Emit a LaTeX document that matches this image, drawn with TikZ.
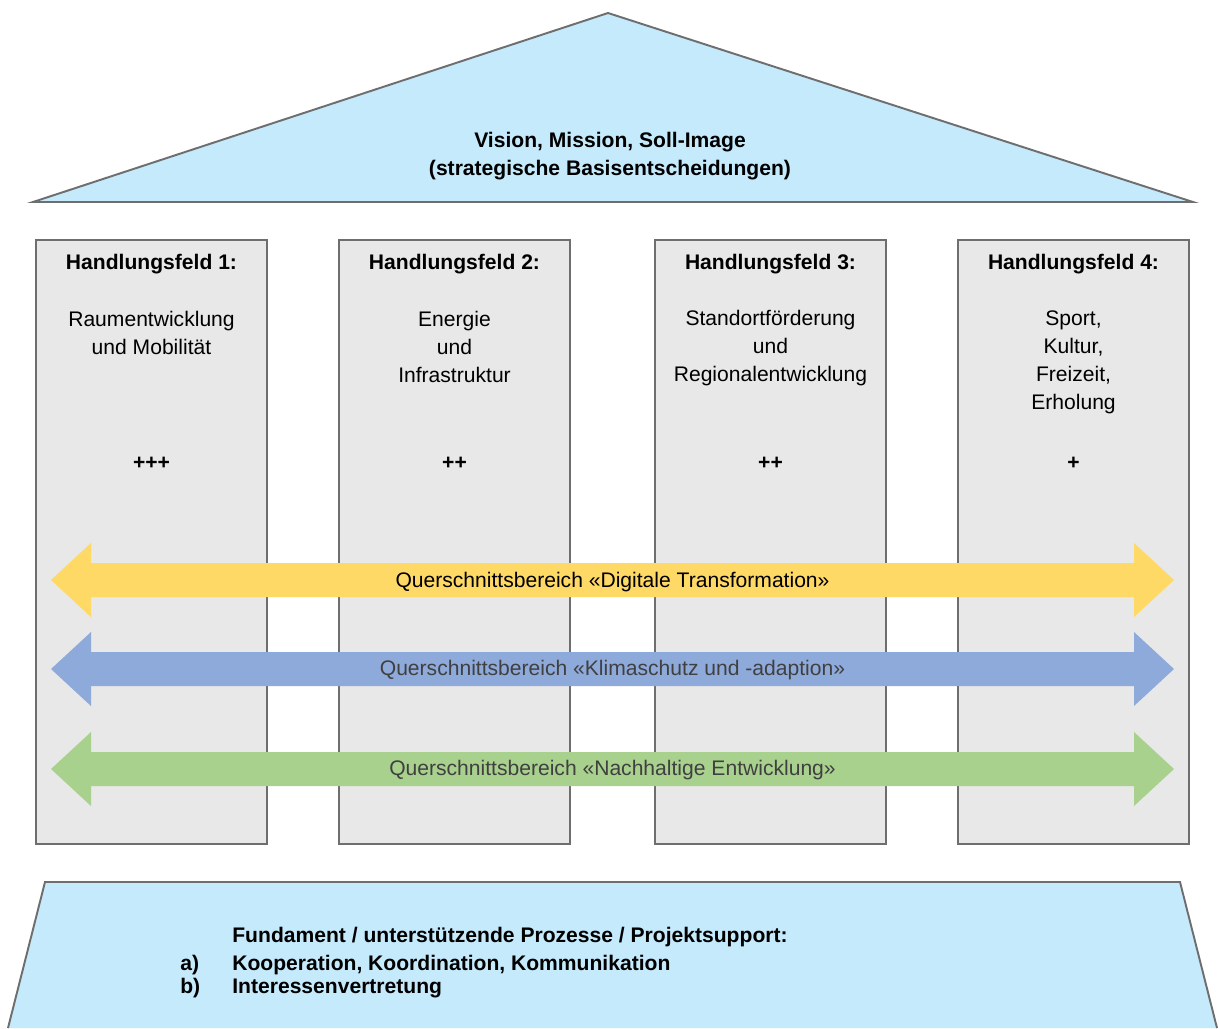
\documentclass[tikz,border=0pt]{standalone}
\usepackage{fontspec}
\setmainfont{Liberation Sans}
\usetikzlibrary{positioning}

\definecolor{roofblue}{RGB}{196,234,252}
\definecolor{pillargray}{RGB}{232,232,232}
\definecolor{edgegray}{RGB}{110,110,110}
\definecolor{digiyellow}{RGB}{255,217,102}
\definecolor{klimablue}{RGB}{142,170,219}
\definecolor{nachgreen}{RGB}{169,209,142}
\definecolor{labelgray}{RGB}{64,64,64}

% double headed band across the pillars: #1 = y of its axis, #2 = colour
\newcommand{\querpfeil}[2]{%
  \fill[#2] (51,#1) -- (91,#1-37) -- (91,#1-17) -- (1134,#1-17) -- (1134,#1-37)
    -- (1174,#1) -- (1134,#1+37) -- (1134,#1+17) -- (91,#1+17) -- (91,#1+37) -- cycle;}

\begin{document}
\begin{tikzpicture}[x=0.02cm,y=-0.02cm,
    txt/.style={font=\fontsize{12}{15.9}\selectfont, inner sep=0pt, align=center},
    ttl/.style={txt, font=\fontsize{12}{15.9}\selectfont\bfseries},
    pillar/.style={draw=edgegray, fill=pillargray, line width=1.1pt,
      minimum width=4.62cm, minimum height=12.08cm, inner sep=0pt}]
    \useasboundingbox (0,0) rectangle (1219,1028);
    % roof
    \filldraw[fill=roofblue, draw=edgegray, line width=1.1pt]
      (33,202) -- (608,13) -- (1193,202) -- cycle;
    \node[ttl] (vision) at (610,156) {Vision, Mission, Soll-Image\\(strategische Basisentscheidungen)};
    % pillars
    \node[pillar] (hf1) at (151.5,542) {};
    \node[pillar] (hf2) at (454.5,542) {};
    \node[pillar] (hf3) at (770.5,542) {};
    \node[pillar] (hf4) at (1073.5,542) {};
    % pillar titles
    \node[ttl] (titel1) at (151.5,264) {Handlungsfeld 1:};
    \node[ttl] (titel2) at (454.5,264) {Handlungsfeld 2:};
    \node[ttl] (titel3) at (770.5,264) {Handlungsfeld 3:};
    \node[ttl] (titel4) at (1073.5,264) {Handlungsfeld 4:};
    % pillar contents
    \node[txt] (inhalt1) at (151.5,333) {Raumentwicklung\\und Mobilität};
    \node[txt] (inhalt2) at (454.5,347) {Energie\\und\\Infrastruktur};
    \node[txt] (inhalt3) at (770.5,348) {Standortförderung\\und\\Regionalentwicklung};
    \node[txt] (inhalt4) at (1073.5,362) {Sport,\\Kultur,\\Freizeit,\\Erholung};
    % weights
    \node[ttl] (gewicht1) at (151.5,463) {+++};
    \node[ttl] (gewicht2) at (454.5,463) {++};
    \node[ttl] (gewicht3) at (770.5,463) {++};
    \node[ttl] (gewicht4) at (1073.5,463) {+};
    % cross-cutting bands
    \querpfeil{580}{digiyellow}
    \querpfeil{669}{klimablue}
    \querpfeil{769}{nachgreen}
    \node[txt] (digital) at (612.5,582) {Querschnittsbereich «Digitale Transformation»};
    \node[txt, text=labelgray] (klima) at (612.5,670) {Querschnittsbereich «Klimaschutz und -adaption»};
    \node[txt, text=labelgray] (nachhalt) at (612.5,770) {Querschnittsbereich «Nachhaltige Entwicklung»};
    % foundation (runs off the bottom edge)
    \fill[roofblue] (8,1028) -- (45,882) -- (1180,882) -- (1217,1028) -- cycle;
    \draw[edgegray, line width=1.1pt] (8,1028) -- (45,882) -- (1180,882) -- (1217,1028);
    \node[ttl, anchor=base west] (fundament) at (232,942) {Fundament / unterstützende Prozesse / Projektsupport:};
    \node[ttl, anchor=base west] (punkta) at (180,970) {a)};
    \node[ttl, anchor=base west] (koop) at (232,970) {Kooperation, Koordination, Kommunikation};
    \node[ttl, anchor=base west] (punktb) at (180,993) {b)};
    \node[ttl, anchor=base west] (interessen) at (232,993) {Interessenvertretung};
  \end{tikzpicture}
\end{document}
